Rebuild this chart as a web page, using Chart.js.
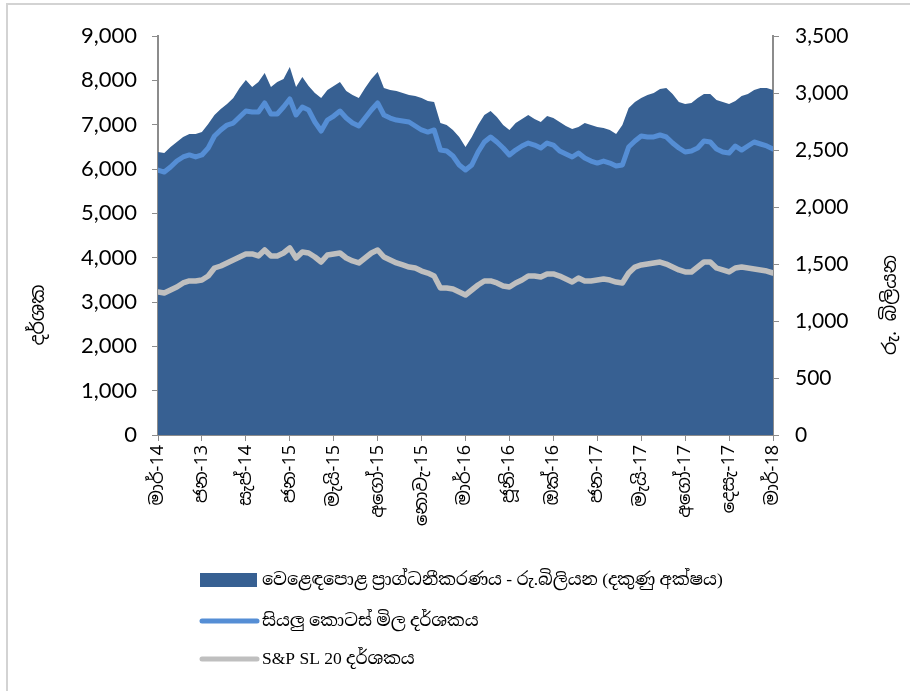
<!DOCTYPE html>
<html>
<head>
<meta charset="utf-8">
<script src="https://cdn.jsdelivr.net/npm/chart.js@4"></script>
<style>
    html, body { margin: 0; padding: 0; background: #fff; }
    #wrap { position: relative; width: 910px; height: 691px; }
</style>
</head>
<body>
<div id="wrap"><canvas id="marketChart" width="910" height="691"></canvas></div>
<script>
// x軸の目盛りラベル (7点ごと)
const tickLabels = ['මාර්-14', 'ජන-13', 'සැප්-14', 'ජන-15', 'මැයි-15', 'අගෝ-15', 'නොවැ-15', 'මාර්-16',
    'ජූනි-16', 'ඔක්-16', 'ජන-17', 'මැයි-17', 'අගෝ-17', 'දෙසැ-17', 'මාර්-18'];

const seriesNames = ['වෙළෙඳපොළ ප්‍රාග්ධනීකරණය - රු.බිලියන (දකුණු අක්ෂය)', 'සියලු කොටස් මිල දර්ශකය', 'S&P SL 20 දර්ශකය'];

// 右軸: 時価総額 (රු. බිලියන)
const marketCap = [2482, 2474, 2526, 2570, 2614, 2640, 2640, 2658, 2728, 2807,
    2860, 2904, 2956, 3044, 3114, 3053, 3097, 3175, 3053, 3097,
    3123, 3228, 3053, 3140, 3061, 3000, 2956, 3026, 3061, 3097,
    3018, 2982, 2956, 3044, 3123, 3184, 3044, 3026, 3018, 3000,
    2982, 2974, 2956, 2930, 2921, 2737, 2719, 2675, 2614, 2526,
    2614, 2719, 2807, 2842, 2790, 2719, 2675, 2737, 2772, 2807,
    2772, 2746, 2798, 2781, 2746, 2711, 2684, 2702, 2737, 2719,
    2702, 2693, 2675, 2640, 2719, 2868, 2921, 2956, 2982, 3000,
    3035, 3044, 2991, 2921, 2904, 2912, 2956, 2991, 2991, 2939,
    2921, 2904, 2930, 2974, 2991, 3026, 3044, 3044, 3026];

// 左軸: 全株価指数
const aspi = [5977, 5932, 6045, 6180, 6271, 6316, 6271, 6316, 6474, 6744,
    6880, 6992, 7037, 7173, 7308, 7286, 7286, 7489, 7240, 7240,
    7398, 7579, 7218, 7398, 7331, 7060, 6857, 7105, 7195, 7308,
    7150, 7037, 6970, 7150, 7331, 7489, 7218, 7150, 7105, 7083,
    7060, 6970, 6880, 6834, 6880, 6428, 6406, 6293, 6090, 5977,
    6090, 6383, 6609, 6722, 6609, 6474, 6316, 6428, 6519, 6586,
    6541, 6474, 6586, 6541, 6406, 6338, 6271, 6361, 6248, 6180,
    6135, 6180, 6135, 6068, 6090, 6496, 6631, 6744, 6722, 6722,
    6767, 6722, 6586, 6474, 6383, 6406, 6474, 6631, 6609, 6451,
    6383, 6361, 6519, 6428, 6519, 6609, 6564, 6519, 6451];

// 左軸: S&P SL 20
const spsl20 = [3226, 3203, 3271, 3338, 3429, 3474, 3474, 3496, 3586, 3767,
    3812, 3880, 3947, 4015, 4083, 4083, 4038, 4173, 4038, 4038,
    4105, 4218, 3992, 4128, 4105, 4015, 3902, 4060, 4083, 4105,
    3992, 3925, 3880, 3992, 4105, 4173, 4015, 3947, 3880, 3835,
    3789, 3767, 3699, 3654, 3586, 3316, 3316, 3293, 3226, 3158,
    3271, 3383, 3474, 3474, 3429, 3361, 3338, 3429, 3496, 3586,
    3586, 3564, 3632, 3632, 3586, 3519, 3451, 3541, 3474, 3474,
    3496, 3519, 3496, 3451, 3429, 3654, 3789, 3835, 3857, 3880,
    3902, 3857, 3789, 3722, 3677, 3677, 3789, 3902, 3902, 3767,
    3722, 3677, 3767, 3789, 3767, 3744, 3722, 3699, 3654];

const pointsPerTick = 7;
const xIndex = marketCap.map((_, i) => i);

const sinhalaFont = '"Noto Sans Sinhala", "Iskoola Pota", "Noto Sans", "DejaVu Sans", sans-serif';
const legendFont = '"Liberation Serif", "Noto Serif Sinhala", "Noto Sans Sinhala", serif';

// 凡例・軸タイトル・枠線を描くプラグイン
const extrasPlugin = {
    id: 'extras',
    afterDraw(chart) {
        const ctx = chart.ctx;
        ctx.save();

        // 外枠
        ctx.strokeStyle = '#d3d3d3';
        ctx.lineWidth = 2;
        ctx.beginPath();
        ctx.moveTo(7, 691);
        ctx.lineTo(7, 4);
        ctx.lineTo(910, 4);
        ctx.stroke();

        // 軸タイトル (下から上へ)
        ctx.fillStyle = '#000';
        ctx.font = '19px ' + sinhalaFont;
        ctx.textAlign = 'center';
        ctx.textBaseline = 'middle';
        [[39, 315, 'දර්ශක'], [891, 305, 'රු. බිලියන']].forEach(([x, y, t]) => {
            ctx.save();
            ctx.translate(x, y);
            ctx.rotate(-Math.PI / 2);
            ctx.fillText(t, 0, 0);
            ctx.restore();
        });

        // 凡例
        const rows = [580, 621, 659];
        chart.data.datasets.forEach((ds, i) => {
            const y = rows[i];
            if (i === 0) {
                ctx.fillStyle = ds.backgroundColor;
                ctx.fillRect(200, y - 7, 57, 14);
            } else {
                ctx.strokeStyle = ds.borderColor;
                ctx.lineWidth = 5;
                ctx.lineCap = 'round';
                ctx.beginPath();
                ctx.moveTo(202, y);
                ctx.lineTo(257, y);
                ctx.stroke();
            }
            ctx.fillStyle = '#000';
            ctx.font = '17.5px ' + legendFont;
            ctx.textAlign = 'left';
            ctx.textBaseline = 'middle';
            ctx.fillText(ds.label, 262, y);
        });
        ctx.restore();
    }
};

const ctx = document.getElementById('marketChart').getContext('2d');
new Chart(ctx, {
    type: 'line',
    data: {
        labels: xIndex,
        datasets: [{
            label: seriesNames[0],
            data: marketCap,
            yAxisID: 'yRight',
            backgroundColor: '#376092',
            borderWidth: 0,
            pointRadius: 0,
            fill: 'origin',
            order: 3
        }, {
            label: seriesNames[1],
            data: aspi,
            yAxisID: 'yLeft',
            borderColor: '#558ed5',
            borderWidth: 5,
            borderJoinStyle: 'round',
            borderCapStyle: 'round',
            pointRadius: 0,
            fill: false,
            order: 1
        }, {
            label: seriesNames[2],
            data: spsl20,
            yAxisID: 'yLeft',
            borderColor: '#bfbfbf',
            borderWidth: 5.5,
            borderJoinStyle: 'round',
            borderCapStyle: 'round',
            pointRadius: 0,
            fill: false,
            order: 2
        }]
    },
    options: {
        responsive: false,
        animation: false,
        layout: { padding: { top: 36, left: 0, right: 0, bottom: 0 } },
        plugins: {
            legend: { display: false },
            tooltip: { enabled: false }
        },
        scales: {
            x: {
                type: 'linear',
                min: 0,
                max: marketCap.length - 1,
                afterFit: s => { s.height = 256; },
                grid: { drawOnChartArea: false, drawTicks: true, tickLength: 6, color: '#8c8c8c' },
                border: { color: '#8c8c8c', width: 2 },
                ticks: {
                    stepSize: pointsPerTick,
                    autoSkip: false,
                    minRotation: 90,
                    maxRotation: 90,
                    padding: 4,
                    color: '#000',
                    font: { family: sinhalaFont, size: 18 },
                    callback: v => tickLabels[Math.round(v / pointsPerTick)]
                }
            },
            yLeft: {
                position: 'left',
                min: 0,
                max: 9000,
                afterFit: s => { s.width = 158; },
                grid: { drawOnChartArea: false, drawTicks: true, tickLength: 6, color: '#8c8c8c' },
                border: { color: '#8c8c8c', width: 2 },
                ticks: {
                    stepSize: 1000,
                    padding: 15,
                    color: '#000',
                    font: { family: 'Lato, "Open Sans", sans-serif', size: 22 },
                    callback: v => v.toLocaleString('en-US')
                }
            },
            yRight: {
                position: 'right',
                min: 0,
                max: 3500,
                afterFit: s => { s.width = 137; },
                grid: { drawOnChartArea: false, drawTicks: true, tickLength: 6, color: '#8c8c8c' },
                border: { color: '#8c8c8c', width: 2 },
                ticks: {
                    stepSize: 500,
                    padding: 16,
                    color: '#000',
                    font: { family: 'Lato, "Open Sans", sans-serif', size: 21 },
                    callback: v => v.toLocaleString('en-US')
                }
            }
        }
    },
    plugins: [extrasPlugin]
});
</script>
</body>
</html>
